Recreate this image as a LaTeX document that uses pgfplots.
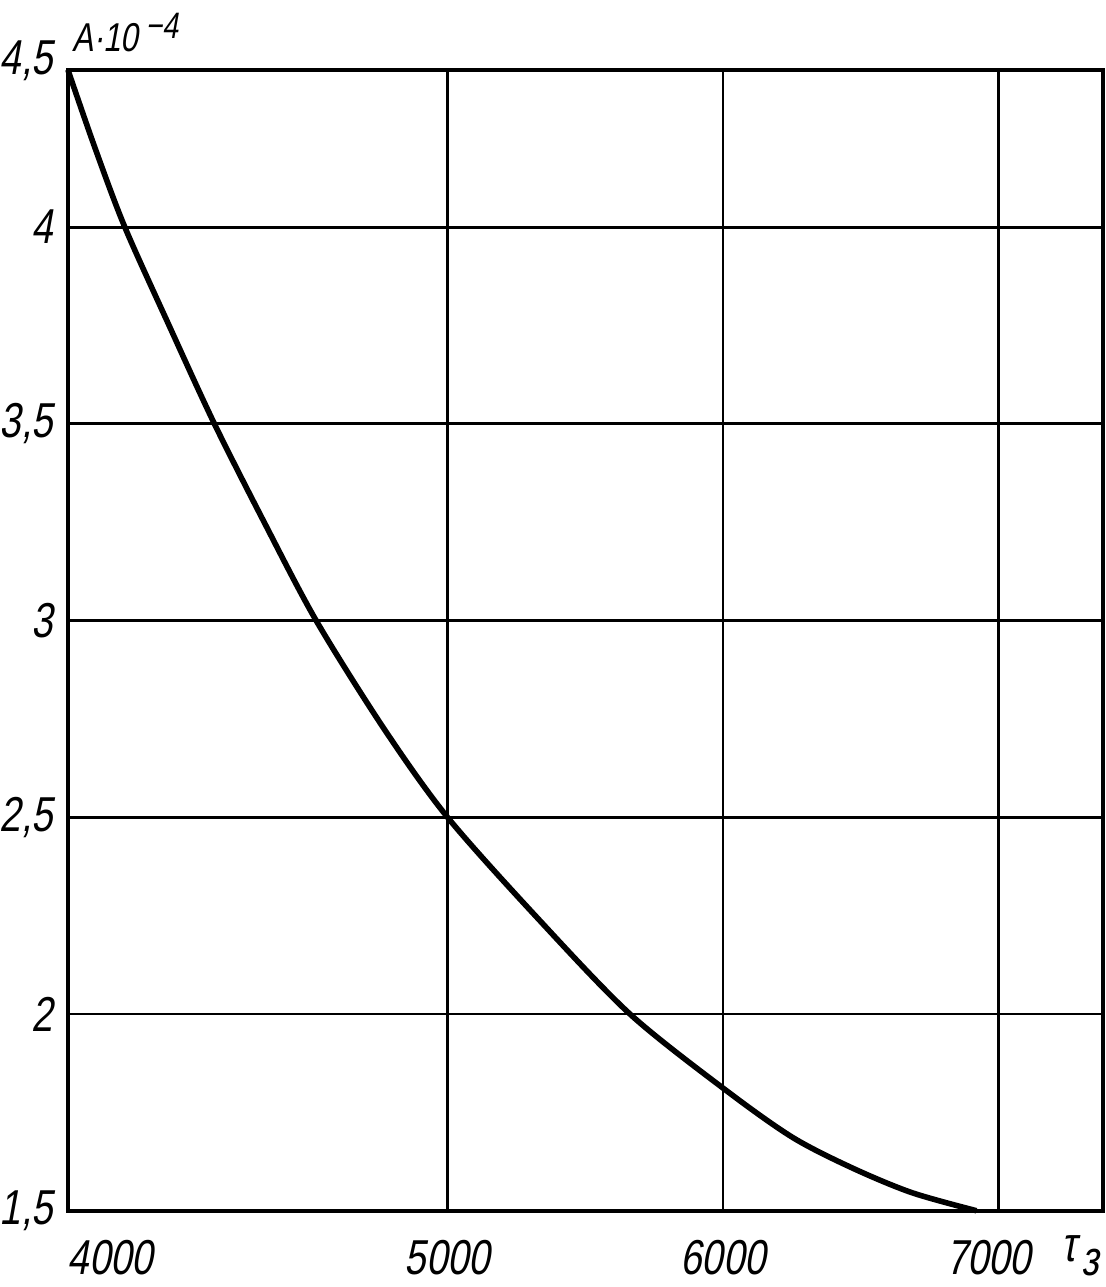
\documentclass[border=0pt]{standalone}
\usepackage{fontspec}
\setmainfont{Liberation Sans}[FakeSlant=0.18, FakeStretch=0.78]
\usepackage{pgfplots}
\pgfplotsset{compat=1.18}

% A*10^-4 against tau_z
\pgfplotstableread{
x    y
4000 4.5
4071 4.253
4150 4.0
4268 3.747
4386 3.5
4517 3.250
4654 3.0
4832 2.726
5000 2.5
5329 2.242
5662 2.0
6005 1.809
6251 1.687
6468 1.609
6685 1.546
6920 1.5
}\curve

\begin{document}
\begin{tikzpicture}
\begin{axis}[
    scale only axis,
    width=10.39cm, height=11.45cm,
    xmin=4000, xmax=7380,
    ymin=1.5, ymax=4.5,
    % the printed scale is stretched below 5000 and squeezed above 4
    x coord trafo/.code={\pgfmathparse{(#1<5000) ? (5000-(5000-#1)*1.378) : (#1)}},
    x coord inv trafo/.code={\pgfmathparse{(#1<5000) ? (5000-(5000-#1)/1.378) : (#1)}},
    y coord trafo/.code={\pgfmathparse{(#1>4) ? (4+(#1-4)*0.8) : (#1)}},
    y coord inv trafo/.code={\pgfmathparse{(#1>4) ? (4+(#1-4)/0.8) : (#1)}},
    xtick={4000,5000,6000,7000},
    xticklabels={{\makebox[0pt][l]{4000}},5000,6000,{\makebox[0pt][c]{7000\hspace{0.2cm}}}},
    ytick={1.5,2,2.5,3,3.5,4,4.5},
    yticklabels={{1,5},2,{2,5},3,{3,5},4,{\raisebox{7pt}{4,5}}},
    grid=major,
    major grid style={black, line width=0.8pt},
    axis line style={black, line width=1.1pt},
    major tick length=0pt,
    tick label style={font=\fontsize{14}{14}\selectfont},
    xticklabel style={yshift=-5pt},
    yticklabel style={inner xsep=0pt, xshift=-4pt},
    clip=false,
]
\addplot[black, line width=1.6pt, smooth, mark=none] table[x=x, y=y] {\curve};
\node[anchor=south west, font=\fontsize{11.5}{11.5}\selectfont, inner sep=0pt]
    at (rel axis cs:0,1) [xshift=1pt, yshift=5pt] {A·10\kern2pt\raisebox{3.5pt}{\fontsize{10.5}{10.5}\selectfont −4}};
\node[anchor=north east, font=\fontsize{14}{14}\selectfont, inner sep=0pt]
    at (rel axis cs:1,0) [yshift=-7pt, xshift=-1pt] {τ\kern1.5pt\raisebox{-4pt}{з}};
\end{axis}
% white margin above the label, as in the scan
\path (current axis.north west) -- ++(0pt,0.70cm);
\end{tikzpicture}
\end{document}
